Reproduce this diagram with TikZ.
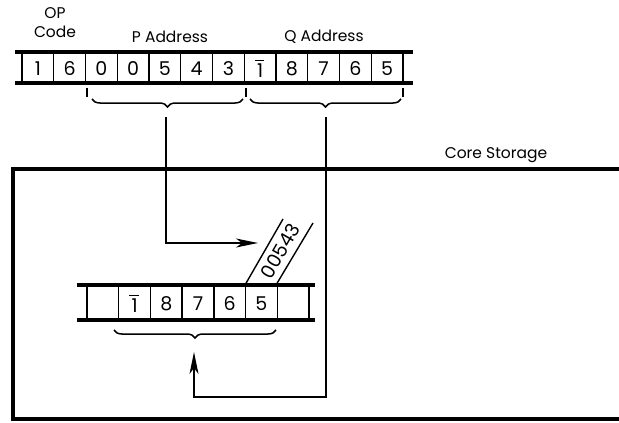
\documentclass[tikz,border=0pt]{standalone}
\usepackage{fontspec}
\setmainfont{Poppins}
\usetikzlibrary{arrows.meta,decorations.pathreplacing}

\newcommand\barone{\vbox{\hrule width 0.5em height 1.2pt\kern2.5pt\hbox to 0.55em{\hss 1\hss}}}

\tikzset{
  rail/.style={line width=3.2pt},
  divider/.style={line width=1.4pt},
  digit/.style={font=\fontsize{19}{19}\selectfont, inner sep=0pt},
  tag/.style={font=\fontsize{15.5}{19}\selectfont, inner sep=0pt},
  wire/.style={line width=1.6pt},
  feed/.style={wire, -{Stealth[length=22pt,width=9pt,inset=6pt]}},
  lazybrace/.style={line width=1.5pt, decorate, decoration={brace, mirror, amplitude=8pt}},
}

\begin{document}
\begin{tikzpicture}[x=1pt,y=-1pt]
\useasboundingbox (0,0) rectangle (619,423);

% instruction
\node[tag, align=center] (opcode) at (55,23) {OP\\Code};
\node[tag] (paddr) at (170,37) {P Address};
\node[tag] (qaddr) at (324,37) {Q Address};
\draw[rail] (15,52) -- (413,52);
\draw[rail] (15,83) -- (413,83);
\foreach \k in {0,...,12}
  \draw[divider] ({22+31.75*\k},52) -- ++(0,31);
\foreach \d [count=\i] in {1,6,0,0,5,4,3,\barone,8,7,6,5}
  \node[digit] (op\i) at ({22+31.75*(\i-0.5)},69) {\d};
\foreach \x in {87,246,403}
  \draw[line width=1.2pt] (\x,88) -- (\x,97);
\draw[lazybrace] (92,99) -- (243,99);
\draw[lazybrace] (250,99) -- (401,99);
\coordinate (pbr) at (166,117);
\coordinate (qbr) at (326,117);

% core storage
\node[tag] (core) at (496,155) {Core Storage};
\draw[rail] (619,169) -| (13,419) -- (619,419);
\draw[rail] (77,285) -- (315,285);
\draw[rail] (77,320) -- (315,320);
\foreach \k in {0,...,7}
  \draw[divider] ({87+31.7*\k},285) -- ++(0,35);
\foreach \d [count=\i] in {{},\barone,8,7,6,5,{}}
  \node[digit] (cs\i) at ({87+31.7*(\i-0.5)},304) {\d};
\draw[divider] (245,285) -- ++(38,-66);
\draw[divider] (276,285) -- ++(37,-62);
\node[digit, rotate=60] (fed) at (280,251) {00543};
\draw[lazybrace] (114,330) -- (276,330);
\coordinate (ptip) at (258,243);
\coordinate (qturn) at (326,397);
\coordinate (lbr) at (194,352);

\draw[feed] (pbr) |- (ptip);
\draw[feed] (qbr) -- (qturn) -| (lbr);
\end{tikzpicture}
\end{document}
